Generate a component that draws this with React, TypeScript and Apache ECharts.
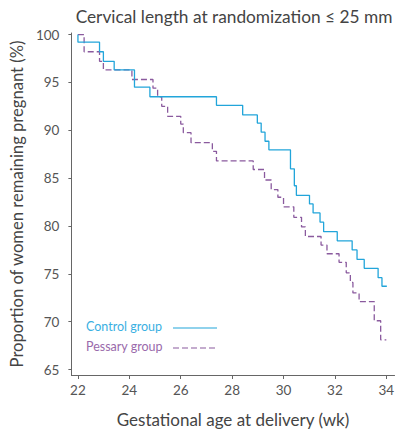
import React, { useEffect, useRef } from "react";
import * as echarts from "echarts";

const xTicks = [22, 24, 26, 28, 30, 32, 34];
const yTicks = [65, 70, 75, 80, 85, 90, 95, 100];

// Kaplan–Meier steps: [week, % remaining pregnant]
const controlGroup: [number, number][] = [
  [22, 100], [22, 99.2], [22.84, 98.2], [22.99, 97.2], [23.41, 96.3],
  [24.2, 94.5], [24.8, 93.5], [27.39, 92.6], [28.41, 91.6], [28.98, 90.75],
  [29.13, 89.8], [29.28, 88.85], [29.43, 87.96], [30.27, 85.97], [30.42, 84.2],
  [30.5, 83.2], [31.01, 82.3], [31.15, 81.36], [31.42, 80.4], [31.56, 79.4],
  [32.09, 78.45], [32.67, 77.5], [32.86, 76.5], [33.14, 75.57], [33.68, 74.6],
  [33.83, 73.7], [34.02, 73.7],
];

const pessaryGroup: [number, number][] = [
  [22, 100], [22.24, 98.2], [22.84, 97.2], [22.99, 96.3], [24.1, 95.3],
  [24.92, 94.4], [25.1, 93.5], [25.26, 92.5], [25.49, 91.45], [26.0, 90.65],
  [26.1, 89.75], [26.4, 88.7], [27.23, 87.8], [27.39, 86.8], [28.82, 85.9],
  [29.26, 84.8], [29.52, 83.8], [29.78, 83.0], [30.0, 82.0], [30.4, 80.9],
  [30.7, 79.9], [30.85, 78.9], [31.46, 78.0], [31.69, 77.1], [32.16, 76.2],
  [32.44, 75.1], [32.6, 74.1], [32.7, 73.0], [32.94, 72.1], [33.53, 70.1],
  [33.78, 68.1], [34.0, 68.1],
];

const seriesNames = ["Control group", "Pessary group"];
const titleText = "Cervical length at randomization \u2264 25 mm";
const xName = "Gestational age at delivery (wk)";
const yName = "Proportion of women remaining pregnant (%)";

const BLUE = "#22a5da";
const PURPLE = "#8a5a9e";
const FONT = "Lato";

export default function App() {
  const ref = useRef<HTMLDivElement>(null);
  useEffect(() => {
    if (!ref.current) return;
    const chart = echarts.init(ref.current, null, { renderer: "svg" });
    chart.setOption({
      animation: false,
      backgroundColor: "#ffffff",
      textStyle: { fontFamily: FONT },
      grid: { left: 65, right: 2, top: 33, bottom: 58 },
      xAxis: {
        type: "value",
        min: 21.745,
        max: 34.32,
        splitLine: { show: false },
        axisLine: { lineStyle: { color: "#666", width: 1 } },
        axisTick: { show: true, length: 4, customValues: xTicks, lineStyle: { color: "#666" } },
        axisLabel: { customValues: xTicks, color: "#555", fontSize: 13.5, margin: 8, fontFamily: FONT },
        name: xName,
        nameLocation: "middle",
        nameGap: 36,
        nameTextStyle: { color: "#444", fontSize: 17, fontFamily: FONT },
      },
      yAxis: {
        type: "value",
        min: 64.43,
        max: 100.16,
        splitLine: { show: false },
        axisLine: { show: true, lineStyle: { color: "#666", width: 1 } },
        axisTick: { show: true, length: 3, customValues: yTicks, lineStyle: { color: "#666" } },
        axisLabel: { customValues: yTicks, color: "#555", fontSize: 13.5, margin: 12, fontFamily: FONT },
        name: yName,
        nameLocation: "middle",
        nameGap: 42,
        nameTextStyle: { color: "#444", fontSize: 16.6, fontFamily: FONT },
      },
      title: {
        text: titleText,
        left: 229,
        top: 3,
        textAlign: "center",
        textStyle: { color: "#444", fontSize: 17.3, fontWeight: "normal", fontFamily: FONT },
      },
      graphic: [
        { type: "text", left: 86, top: 320, style: { text: seriesNames[0], fill: "#3ab0e2", fontSize: 12.5, fontFamily: FONT } },
        { type: "line", shape: { x1: 173, y1: 328, x2: 217, y2: 328 }, style: { stroke: BLUE, lineWidth: 1.2 } },
        { type: "text", left: 86, top: 340, style: { text: seriesNames[1], fill: "#9a6aab", fontSize: 12.5, fontFamily: FONT } },
        { type: "line", shape: { x1: 173, y1: 348, x2: 217, y2: 348 }, style: { stroke: PURPLE, lineWidth: 1.2, lineDash: [6, 3] } },
      ],
      series: [
        {
          name: seriesNames[1],
          type: "line",
          step: "end",
          data: pessaryGroup,
          showSymbol: false,
          lineStyle: { color: PURPLE, width: 1.3, type: [6, 3] },
          itemStyle: { color: PURPLE },
        },
        {
          name: seriesNames[0],
          type: "line",
          step: "end",
          data: controlGroup,
          showSymbol: false,
          lineStyle: { color: BLUE, width: 1.3 },
          itemStyle: { color: BLUE },
        },
      ],
    });
    return () => chart.dispose();
  }, []);
  return <div ref={ref} style={{ position: "fixed", left: 0, top: 0, width: 397, height: 433 }} />;
}
